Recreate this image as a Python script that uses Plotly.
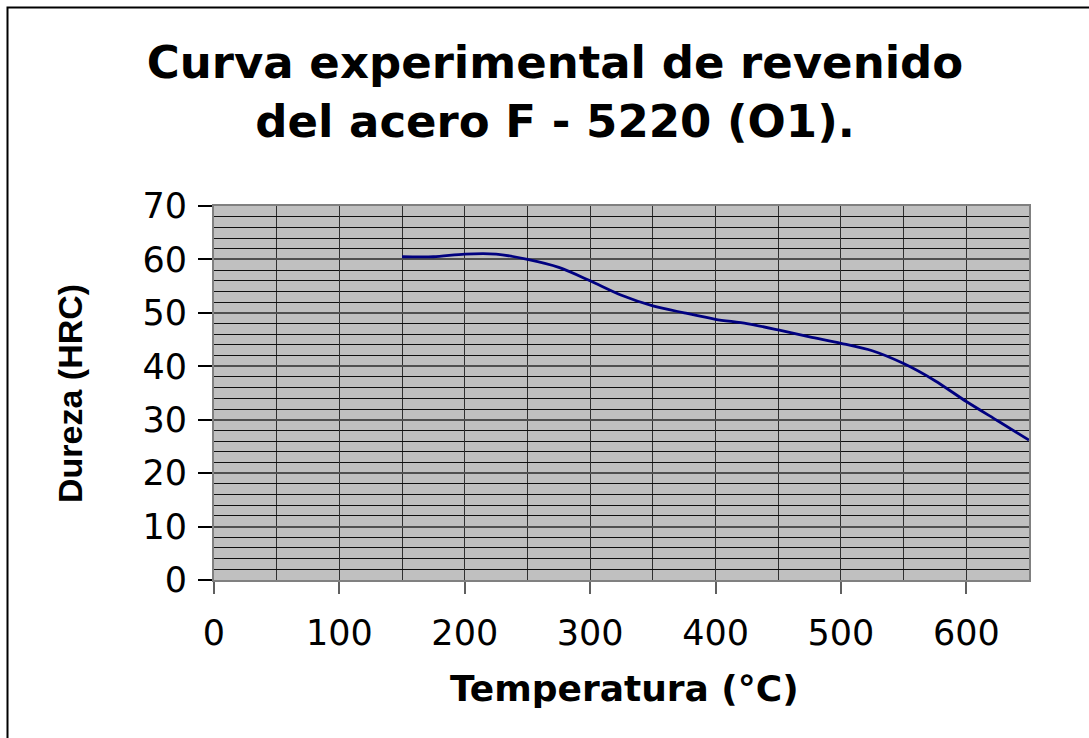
import plotly.graph_objects as go

# Tempering curve data: temperature (°C) vs hardness (HRC)
temperatura = [150, 175, 200, 225, 250, 275, 300, 325, 350, 375, 400,
               425, 450, 475, 500, 525, 550, 575, 600, 625, 650]
dureza = [60.5, 60.5, 61.0, 61.0, 60.0, 58.5, 56.0, 53.3, 51.3, 50.0, 48.8,
          48.0, 46.8, 45.5, 44.3, 42.9, 40.5, 37.3, 33.4, 29.8, 26.2]

x_ticks = [0, 100, 200, 300, 400, 500, 600]
y_ticks = [0, 10, 20, 30, 40, 50, 60, 70]

titulo = "Curva experimental de revenido<br>del acero F - 5220 (O1)."
titulo_x = "Temperatura (°C)"
titulo_y = "Dureza (HRC)"

W, H = 1089, 738
L, R, T, B = 214, 60, 206, 158
pw, ph = W - L - R, H - T - B


def px_to_paper_x(px):
    return (px - L) / pw


def px_to_paper_y(py):
    return (H - B - py) / ph


fig = go.Figure()
fig.add_trace(go.Scatter(
    x=temperatura, y=dureza, mode="lines",
    line=dict(color="#000080", width=2.8, shape="spline", smoothing=0.8),
    showlegend=False, hoverinfo="x+y",
))

axis_font = dict(family="DejaVu Sans", size=35, color="black")

fig.update_layout(
    width=W, height=H, autosize=False,
    margin=dict(l=L, r=R, t=T, b=B, pad=0),
    paper_bgcolor="white", plot_bgcolor="#C0C0C0",
    title=dict(
        text=titulo, x=555 / W, xref="container", xanchor="center",
        y=1 - 78 / H, yref="container", yanchor="middle",
        font=dict(family="DejaVu Sans", size=45, color="black", weight="bold"),
    ),
    xaxis=dict(
        range=[0, 650], tickmode="array", tickvals=x_ticks,
        ticktext=[str(v) for v in x_ticks],
        ticks="outside", ticklen=12, tickwidth=2, tickcolor="#606060",
        tickfont=axis_font, ticklabelstandoff=9,
        showgrid=True, gridcolor="#303030", gridwidth=1,
        minor=dict(dtick=50, tick0=0, showgrid=True, gridcolor="#303030", gridwidth=1),
        showline=True, linecolor="#808080", linewidth=2, mirror=True,
        zeroline=False, fixedrange=True,
    ),
    yaxis=dict(
        range=[0, 70], tickmode="array", tickvals=y_ticks,
        ticktext=[str(v) for v in y_ticks],
        ticks="outside", ticklen=14, tickwidth=2, tickcolor="black",
        tickfont=axis_font, ticklabelstandoff=4,
        showgrid=True, gridcolor="#505050", gridwidth=2,
        minor=dict(dtick=2, tick0=0, showgrid=True, gridcolor="#101010", gridwidth=1),
        showline=True, linecolor="#808080", linewidth=2, mirror=True,
        zeroline=False, fixedrange=True,
    ),
    annotations=[
        dict(text=titulo_x, xref="paper", yref="paper",
             x=px_to_paper_x(624), y=px_to_paper_y(688),
             xanchor="center", yanchor="middle", showarrow=False,
             font=dict(family="DejaVu Sans", size=36, color="black", weight="bold")),
        dict(text=titulo_y, xref="paper", yref="paper", textangle=-90,
             x=px_to_paper_x(70), y=px_to_paper_y(394),
             xanchor="center", yanchor="middle", showarrow=False,
             font=dict(family="Liberation Sans", size=34, color="black", weight="bold")),
    ],
    shapes=[
        dict(type="rect", xref="paper", yref="paper", layer="above",
             x0=px_to_paper_x(7.5), x1=px_to_paper_x(W + 20),
             y0=px_to_paper_y(H + 20), y1=px_to_paper_y(7.5),
             line=dict(color="black", width=2), fillcolor="rgba(0,0,0,0)"),
    ],
)

fig.write_html("out.html")
